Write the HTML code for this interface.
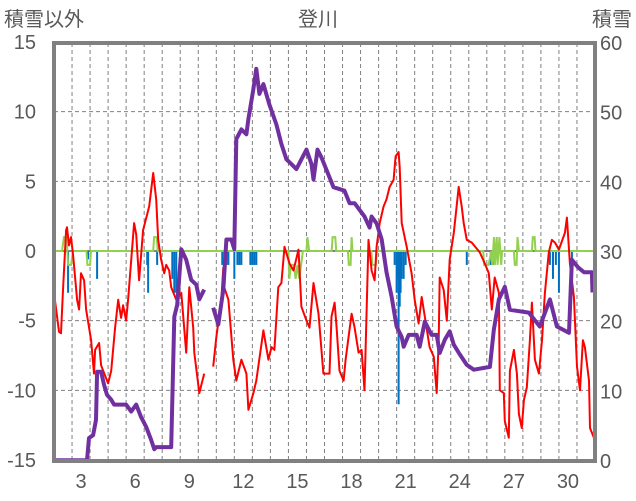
<!DOCTYPE html>
<html><head><meta charset="utf-8"><style>
body{margin:0;background:#fff;}
svg{display:block;font-family:"Liberation Sans","Noto Sans CJK JP",sans-serif;}
</style></head><body>
<svg id="chart" width="636" height="501" viewBox="0 0 636 501">
<text x="4" y="26" font-size="20" fill="#595959">積雪以外</text>
<text x="318" y="26" font-size="20" fill="#595959" text-anchor="middle">登川</text>
<text x="632" y="26" font-size="20" fill="#595959" text-anchor="end">積雪</text>
<g id="grid"></g>
<g id="ticks"></g>
<g id="series"></g>
<rect x="54" y="43" width="541" height="418" fill="none" stroke="#808080" stroke-width="4"/>
</svg>
<script>
const leftTicks=[15,10,5,0,-5,-10,-15];
const rightTicks=[60,50,40,30,20,10,0];
const dayLabels=[3,6,9,12,15,18,21,24,27,30];
const redDays=[2.00,2.28,2.39,2.50,2.67,2.72,2.83,2.94,3.06,3.28,3.39,3.50,3.67,3.78,4.06,4.22,4.28,4.50,4.61,5.00,5.17,5.39,5.56,5.72,5.83,6.00,6.11,6.44,6.56,6.72,6.94,7.28,7.50,7.67,7.78,7.94,8.11,8.22,8.39,8.50,8.78,9.06,9.33,9.50,9.72,9.78,10.06,10.33,null,10.83,11.00,11.28,11.39,11.44,11.67,11.94,12.11,12.39,12.67,12.78,13.06,13.22,13.61,13.89,14.06,14.22,14.44,14.61,14.78,15.06,15.28,15.56,15.72,16.00,16.17,16.39,16.67,16.94,17.28,17.39,17.56,17.67,17.83,18.06,18.17,18.50,18.67,18.89,19.06,19.22,19.44,19.61,19.78,19.89,20.06,20.28,20.44,20.61,20.83,20.94,21.11,21.17,21.28,21.56,21.83,22.00,22.22,22.39,22.56,22.83,23.06,23.22,23.33,23.39,23.61,23.78,23.94,24.17,24.44,24.61,24.72,24.89,25.17,25.61,25.89,26.11,26.28,26.44,26.67,26.72,26.94,27.00,27.22,27.28,27.50,27.67,27.78,27.94,28.06,28.22,28.39,28.50,28.67,28.89,29.06,29.22,29.44,29.61,29.78,30.00,30.33,30.44,30.61,30.83,31.00,31.17,31.33,31.44,31.67,31.72,31.94];
const redVals=[-3.0,-5.8,-5.9,-2.8,1.5,1.7,0.4,1.0,-0.3,-3.5,-4.2,-1.6,-2.1,-4.2,-6.4,-8.8,-7.1,-6.6,-8.2,-9.5,-8.6,-5.5,-3.5,-4.8,-3.9,-5.0,-3.5,2.0,1.2,-2.1,1.5,3.2,5.6,3.7,0.8,-0.6,-1.6,-1.0,-1.4,-2.6,-3.5,-3.0,-7.3,-2.6,-5.5,-7.3,-10.2,-8.8,null,-8.3,-6.2,-3.5,-1.2,-2.6,-3.5,-7.8,-9.3,-7.8,-8.8,-11.4,-10.2,-9.3,-5.7,-7.8,-6.9,-7.1,-2.6,-2.3,0.3,-0.9,-1.4,0.1,-4.0,-5.0,-5.5,-2.3,-4.5,-8.8,-8.8,-4.7,-3.7,-5.5,-8.6,-9.3,-7.8,-4.5,-5.5,-7.3,-7.1,-10.0,0.8,-1.4,-2.1,0.3,2.0,3.2,3.7,4.6,5.1,6.8,7.1,6.0,2.0,0.3,-1.6,-3.5,-5.2,-3.3,-4.7,-6.9,-7.6,-10.2,-6.4,-1.9,-2.8,-5.0,-0.6,1.3,4.6,3.2,2.0,0.8,0.6,-0.1,-0.9,-1.6,-4.2,-1.9,-3.0,-10.0,-10.2,-12.2,-13.4,-8.6,-7.1,-8.8,-11.7,-12.7,-10.7,-9.8,-6.4,-3.7,-7.8,-8.8,-6.4,-3.0,-0.1,0.8,0.6,0.1,1.3,2.4,-0.9,-3.3,-8.3,-10.0,-6.4,-6.9,-9.3,-12.7,-13.4];
const snowDays=[2.00,3.83,3.94,4.17,4.33,4.39,4.61,4.78,4.94,5.17,5.33,6.00,6.28,6.56,6.83,7.11,7.39,7.56,7.67,8.50,8.67,8.83,9.06,9.33,9.61,9.89,10.06,10.33,null,10.83,11.11,11.39,11.56,11.83,12.00,12.11,12.39,12.67,12.78,13.06,13.22,13.39,13.61,13.94,14.33,14.61,14.89,15.17,15.44,15.72,16.00,16.28,16.39,16.61,16.83,17.50,18.11,18.39,18.67,19.22,19.50,19.61,19.89,20.17,20.44,20.72,21.00,21.28,21.39,21.67,22.11,22.28,22.56,22.94,23.22,23.39,23.67,23.94,24.17,24.50,24.89,25.28,26.17,26.39,26.67,27.00,27.28,28.33,28.94,29.50,29.89,30.56,30.72,31.06,31.39,31.83,31.86];
const snowVals=[0.1,0.1,3.3,3.7,5.9,12.8,12.8,10.9,9.5,8.8,8.1,8.1,7.1,8.1,6.3,4.9,3.0,1.7,2.0,2.0,20.7,22.4,30.4,28.9,26.0,25.3,23.2,24.6,null,22.0,19.6,24.6,31.8,31.8,30.4,46.2,47.6,46.9,49.1,53.4,56.3,52.7,54.1,51.2,48.3,45.5,43.3,42.6,41.9,43.3,44.7,42.6,40.4,44.7,43.6,39.3,38.8,37.0,37.0,35.1,33.5,35.1,34.1,31.8,27.1,23.6,19.3,17.8,16.4,18.1,18.1,16.4,20.0,18.1,18.1,15.5,17.4,18.6,16.7,15.3,13.8,13.1,13.5,18.8,23.2,25.0,21.7,21.3,19.3,23.2,19.3,18.4,28.9,27.8,27.1,27.1,24.2];
const greenDays=[2.0,2.45,2.55,2.7,2.78,2.95,3.05,3.8,3.85,4.0,4.05,7.5,7.55,7.7,7.75,15.0,15.05,15.15,15.3,15.4,15.5,15.6,15.7,15.8,16.0,16.05,16.15,17.4,17.45,17.6,17.65,18.3,18.35,18.45,18.5,18.55,19.6,19.65,19.85,19.9,25.8,25.85,26.1,26.25,26.3,26.4,26.45,26.55,26.6,26.7,26.8,26.85,27.5,27.55,27.65,27.7,27.78,28.5,28.55,28.65,28.7,32.0];
const greenVals=[0,0,1,1,-1,-1,0,0,-1,-1,0,0,1,1,0,0,-2,-1,-1,-2,-1,-2,-1,0,0,1,0,0,1,1,0,0,-1,-1,1,0,0,-1,-1,0,0,-1,-1,0,-1,1,-1,1,-1,1,-1,0,0,-1,-1,1,0,0,1,1,0,0];
const precipDays=[2.78,3.89,4.39,7.17,7.22,7.72,8.56,8.67,8.78,11.33,11.44,11.56,11.67,12.0,12.17,12.28,12.39,12.89,13.0,13.11,13.22,20.89,21.0,21.06,21.11,21.17,21.22,21.28,21.39,21.5,24.89,26.22,26.33,29.5,29.67,29.83,30.0,30.72];
const precipVals=[-3,-0.6,-2,-1,-3,-1,-2,-3,-3,-1,-1,-1,-1,-2,-1,-1,-1,-1,-1,-1,-1,-1,-3,-2,-11,-4,-3,-2,-2,-1,-1,-1,-1,-1,-2,-1,-3,-1];

const NS='http://www.w3.org/2000/svg';
const PL=54,PR=595,PT=43,PB=461;
const xDay=d=>PL+(d-2)*(PR-PL)/30;
const yL=v=>251-v*(PB-PT)/30;
const yR=s=>PB-s*(PB-PT)/60;
function mk(tag,attrs,parent){const e=document.createElementNS(NS,tag);for(const k in attrs)e.setAttribute(k,attrs[k]);parent.appendChild(e);return e;}
const grid=document.getElementById('grid'),ticks=document.getElementById('ticks'),series=document.getElementById('series');
for(let d=3;d<=31;d++){const x=xDay(d);const l=mk('line',{x1:x,x2:x,y1:PT,y2:PB,stroke:'#808080','stroke-width':1,'stroke-dasharray':'4,3'},grid);

}
leftTicks.forEach(v=>{const y=yL(v);
if(v!==0&&v!==15&&v!==-15){const l=mk('line',{x1:PL,x2:PR,y1:y,y2:y,stroke:'#808080','stroke-width':1,'stroke-dasharray':'4,3'},grid);

}
const t=mk('text',{x:36,y:y+7,'font-size':20,fill:'#595959','text-anchor':'end'},ticks);t.textContent=v;

});
rightTicks.forEach(s=>{const t=mk('text',{x:600,y:yR(s)+7,'font-size':20,fill:'#595959'},ticks);t.textContent=s;

});
dayLabels.forEach(d=>{const t=mk('text',{x:xDay(d+0.5),y:488,'font-size':20,fill:'#595959','text-anchor':'middle'},ticks);t.textContent=d;

});
const zl=mk('line',{x1:PL,x2:PR,y1:yL(0),y2:yL(0),stroke:'#808080','stroke-width':2},grid);


precipDays.forEach((d,i)=>{const y0=yL(0),y1=yL(precipVals[i]);
const r=mk('rect',{x:xDay(d)-1,y:y0,width:2,height:y1-y0,fill:'#0070C0'},series);

});
function path(days,vals,yf){let s='',pen=false;days.forEach((d,i)=>{if(d===null||vals[i]===null){pen=false;return;}s+=(pen?'L':'M')+xDay(d).toFixed(1)+','+yf(vals[i]).toFixed(1);pen=true;});return s;}
const g=mk('path',{d:path(greenDays,greenVals,yL),fill:'none',stroke:'#92D050','stroke-width':2},series);


const r=mk('path',{d:path(redDays,redVals,yL),fill:'none',stroke:'#FF0000','stroke-width':2,'stroke-linejoin':'round'},series);


const p=mk('path',{d:path(snowDays,snowVals,yR),fill:'none',stroke:'#7030A0','stroke-width':4,'stroke-linejoin':'round'},series);


</script>
</body></html>
